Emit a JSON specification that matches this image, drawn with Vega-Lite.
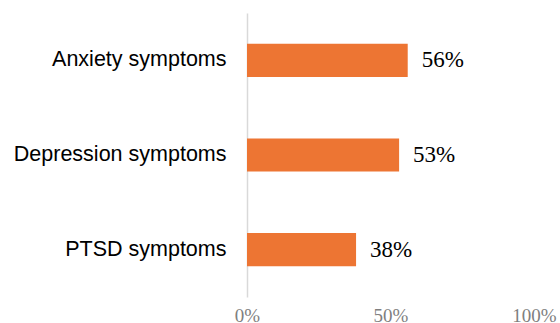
{
  "$schema": "https://vega.github.io/schema/vega-lite/v6.json",
  "autosize": "none",
  "width": 287,
  "height": 284,
  "padding": {"left": 247, "top": 13, "right": 26, "bottom": 26},
  "background": "white",
  "config": {"view": {"stroke": null}},
  "data": {
    "values": [
      {"symptom": "Anxiety symptoms", "share": 0.56},
      {"symptom": "Depression symptoms", "share": 0.53},
      {"symptom": "PTSD symptoms", "share": 0.38}
    ]
  },
  "encoding": {
    "y": {
      "field": "symptom",
      "type": "nominal",
      "sort": null,
      "scale": {"paddingInner": 0.65, "paddingOuter": 0.325},
      "axis": {
        "title": null,
        "ticks": false,
        "domainColor": "#d9d9d9",
        "domainWidth": 1.5,
        "labelFont": "Liberation Sans",
        "labelFontSize": 21.5,
        "labelColor": "#000000",
        "labelPadding": 21,
        "labelLimit": 0
      }
    },
    "x": {
      "field": "share",
      "type": "quantitative",
      "scale": {"domain": [0, 1], "nice": false},
      "axis": {
        "title": null,
        "values": [0, 0.5, 1],
        "format": ".0%",
        "grid": false,
        "ticks": false,
        "domain": false,
        "labelFont": "Liberation Serif",
        "labelFontSize": 19,
        "labelColor": "#7f7f7f",
        "labelPadding": 9,
        "labelFlush": false
      }
    }
  },
  "layer": [
    {
      "mark": {"type": "bar", "color": "#ed7533"}
    },
    {
      "mark": {
        "type": "text",
        "align": "left",
        "dx": 14,
        "font": "Liberation Serif",
        "fontSize": 23,
        "color": "#000000"
      },
      "encoding": {
        "text": {"field": "share", "type": "quantitative", "format": ".0%"}
      }
    }
  ]
}
